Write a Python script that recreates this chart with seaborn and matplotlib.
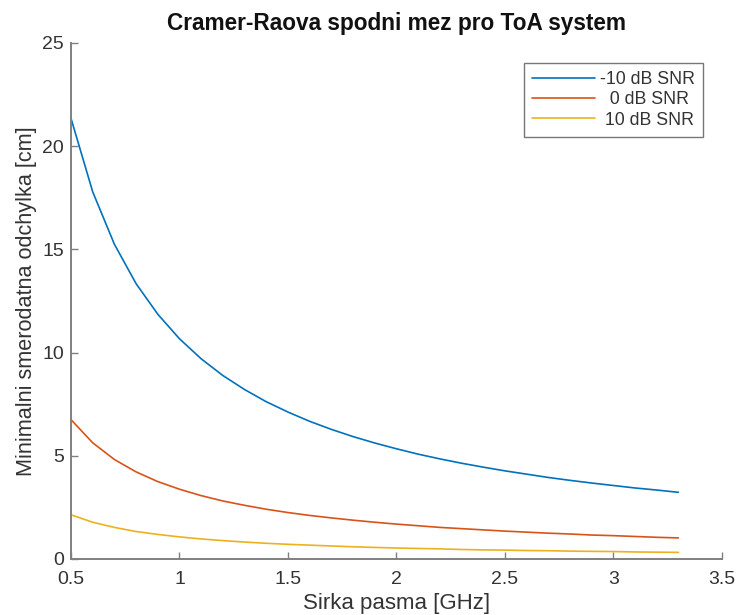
import matplotlib
matplotlib.use("Agg")
import matplotlib.pyplot as plt
import seaborn as sns
import pandas as pd

# Bandwidth samples [GHz]
bandwidth = [0.5, 0.6, 0.7, 0.8, 0.9, 1.0, 1.1, 1.2, 1.3, 1.4, 1.5, 1.6, 1.7, 1.8, 1.9,
             2.0, 2.1, 2.2, 2.3, 2.4, 2.5, 2.6, 2.7, 2.8, 2.9, 3.0, 3.1, 3.2, 3.3]

# Minimal standard deviation [cm] for each SNR
snr_m10 = [21.35, 17.79, 15.25, 13.34, 11.86, 10.67, 9.70, 8.89, 8.21, 7.62, 7.12, 6.67,
           6.28, 5.93, 5.62, 5.34, 5.08, 4.85, 4.64, 4.45, 4.27, 4.11, 3.95, 3.81, 3.68,
           3.56, 3.44, 3.34, 3.23]
snr_0 = [6.75, 5.63, 4.82, 4.22, 3.75, 3.38, 3.07, 2.81, 2.60, 2.41, 2.25, 2.11, 1.99,
         1.88, 1.78, 1.69, 1.61, 1.53, 1.47, 1.41, 1.35, 1.30, 1.25, 1.21, 1.16, 1.13,
         1.09, 1.05, 1.02]
snr_10 = [2.14, 1.78, 1.53, 1.33, 1.19, 1.07, 0.97, 0.89, 0.82, 0.76, 0.71, 0.67, 0.63,
          0.59, 0.56, 0.53, 0.51, 0.49, 0.46, 0.44, 0.43, 0.41, 0.40, 0.38, 0.37, 0.36,
          0.34, 0.33, 0.32]

series_labels = ["-10 dB SNR", "  0 dB SNR", " 10 dB SNR"]
colors = ["#0072BD", "#D95319", "#EDB120"]

x_ticks = [0.5, 1, 1.5, 2, 2.5, 3, 3.5]
x_ticklabels = ["0.5", "1", "1.5", "2", "2.5", "3", "3.5"]
y_ticks = [0, 5, 10, 15, 20, 25]

frames = []
for lab, vals in zip(series_labels, [snr_m10, snr_0, snr_10]):
    frames.append(pd.DataFrame({"B": bandwidth, "std": vals, "SNR": lab}))
df = pd.concat(frames, ignore_index=True)

sns.set_theme(style="white")
plt.rcParams["font.family"] = ["Liberation Sans", "DejaVu Sans"]

fig = plt.figure(figsize=(7.38, 6.15), dpi=100)
ax = fig.add_axes([0.0962, 0.0911, 0.8818, 0.8390])

sns.lineplot(data=df, x="B", y="std", hue="SNR", palette=colors, linewidth=1.2,
             ax=ax, legend=False, estimator=None, sort=False)

ax.set_xlim(0.5, 3.5)
ax.set_ylim(0, 25)
ax.set_xticks(x_ticks)
ax.set_xticklabels(x_ticklabels)
ax.set_yticks(y_ticks)

axis_gray = "#808080"
text_gray = "#333333"
for side in ["top", "right"]:
    ax.spines[side].set_visible(False)
for side in ["left", "bottom"]:
    ax.spines[side].set_color(axis_gray)
    ax.spines[side].set_linewidth(1.4)
ax.tick_params(direction="in", length=5, width=1.0, color=axis_gray,
               labelsize=14, labelcolor=text_gray, bottom=True, left=True)
ax.tick_params(axis="x", pad=9)
ax.tick_params(axis="y", pad=5)

ax.set_xlabel("Sirka pasma [GHz]", fontsize=16, color=text_gray, labelpad=3)
ax.set_ylabel("Minimalni smerodatna odchylka [cm]", fontsize=15.6, color=text_gray,
              labelpad=4)
ax.set_title("Cramer-Raova spodni mez pro ToA system", fontsize=16.3,
             fontweight="bold", color="#111111", pad=9)

handles = [plt.Line2D([], [], color=c, linewidth=1.2) for c in colors]
leg = ax.legend(handles, series_labels, loc="upper right",
                bbox_to_anchor=(0.971, 0.961), fontsize=12.8, frameon=True,
                fancybox=False, handlelength=3.5, handletextpad=0.3,
                labelspacing=0.18, borderpad=0.45, borderaxespad=0.0,
                labelcolor=text_gray)
leg.get_frame().set_edgecolor("#555555")
leg.get_frame().set_linewidth(1.0)

fig.savefig("out.png", dpi=100)
